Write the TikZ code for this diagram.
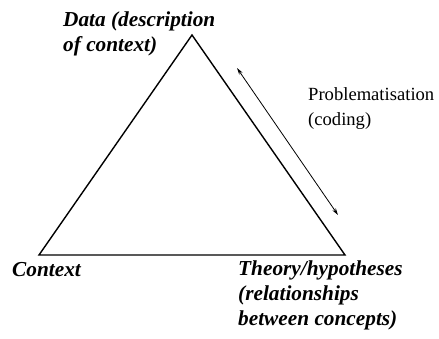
\documentclass[tikz,border=0pt]{standalone}
\usepackage{fontspec}
\setmainfont{Liberation Serif}
\usetikzlibrary{arrows.meta}

\tikzset{
    corner/.style={font=\fontsize{21.3}{25}\selectfont\bfseries\itshape, align=left, inner sep=0pt, anchor=base west},
    remark/.style={font=\fontsize{18.6}{24.5}\selectfont, align=left, inner sep=0pt, anchor=base west}
}

\begin{document}
\begin{tikzpicture}[x=1pt,y=-1pt]
    \useasboundingbox (0,0) rectangle (439,338);

    % Corners of the triangle
    \coordinate (top) at (192,35);
    \coordinate (left) at (39,255);
    \coordinate (right) at (345,255);
    \draw[line width=1.4pt, line join=miter] (top) -- (right) -- (left) -- cycle;

    % Labels at the corners (placed by the baseline of the last line)
    \node[corner] (data) at (63,51) {Data (description\\of context)};
    \node[corner] (context) at (12,276) {Context};
    \node[corner] (theory) at (238,325) {Theory/hypotheses\\(relationships\\between concepts)};

    % Problematisation arrow
    \coordinate (p1) at (237,68);
    \coordinate (p2) at (338,215);
    \draw[{Stealth[length=7pt,width=4pt]}-{Stealth[length=7pt,width=4pt]}, line width=0.8pt] (p1) -- (p2);
    \node[remark] (coding) at (308,125) {Problematisation\\(coding)};
\end{tikzpicture}
\end{document}
